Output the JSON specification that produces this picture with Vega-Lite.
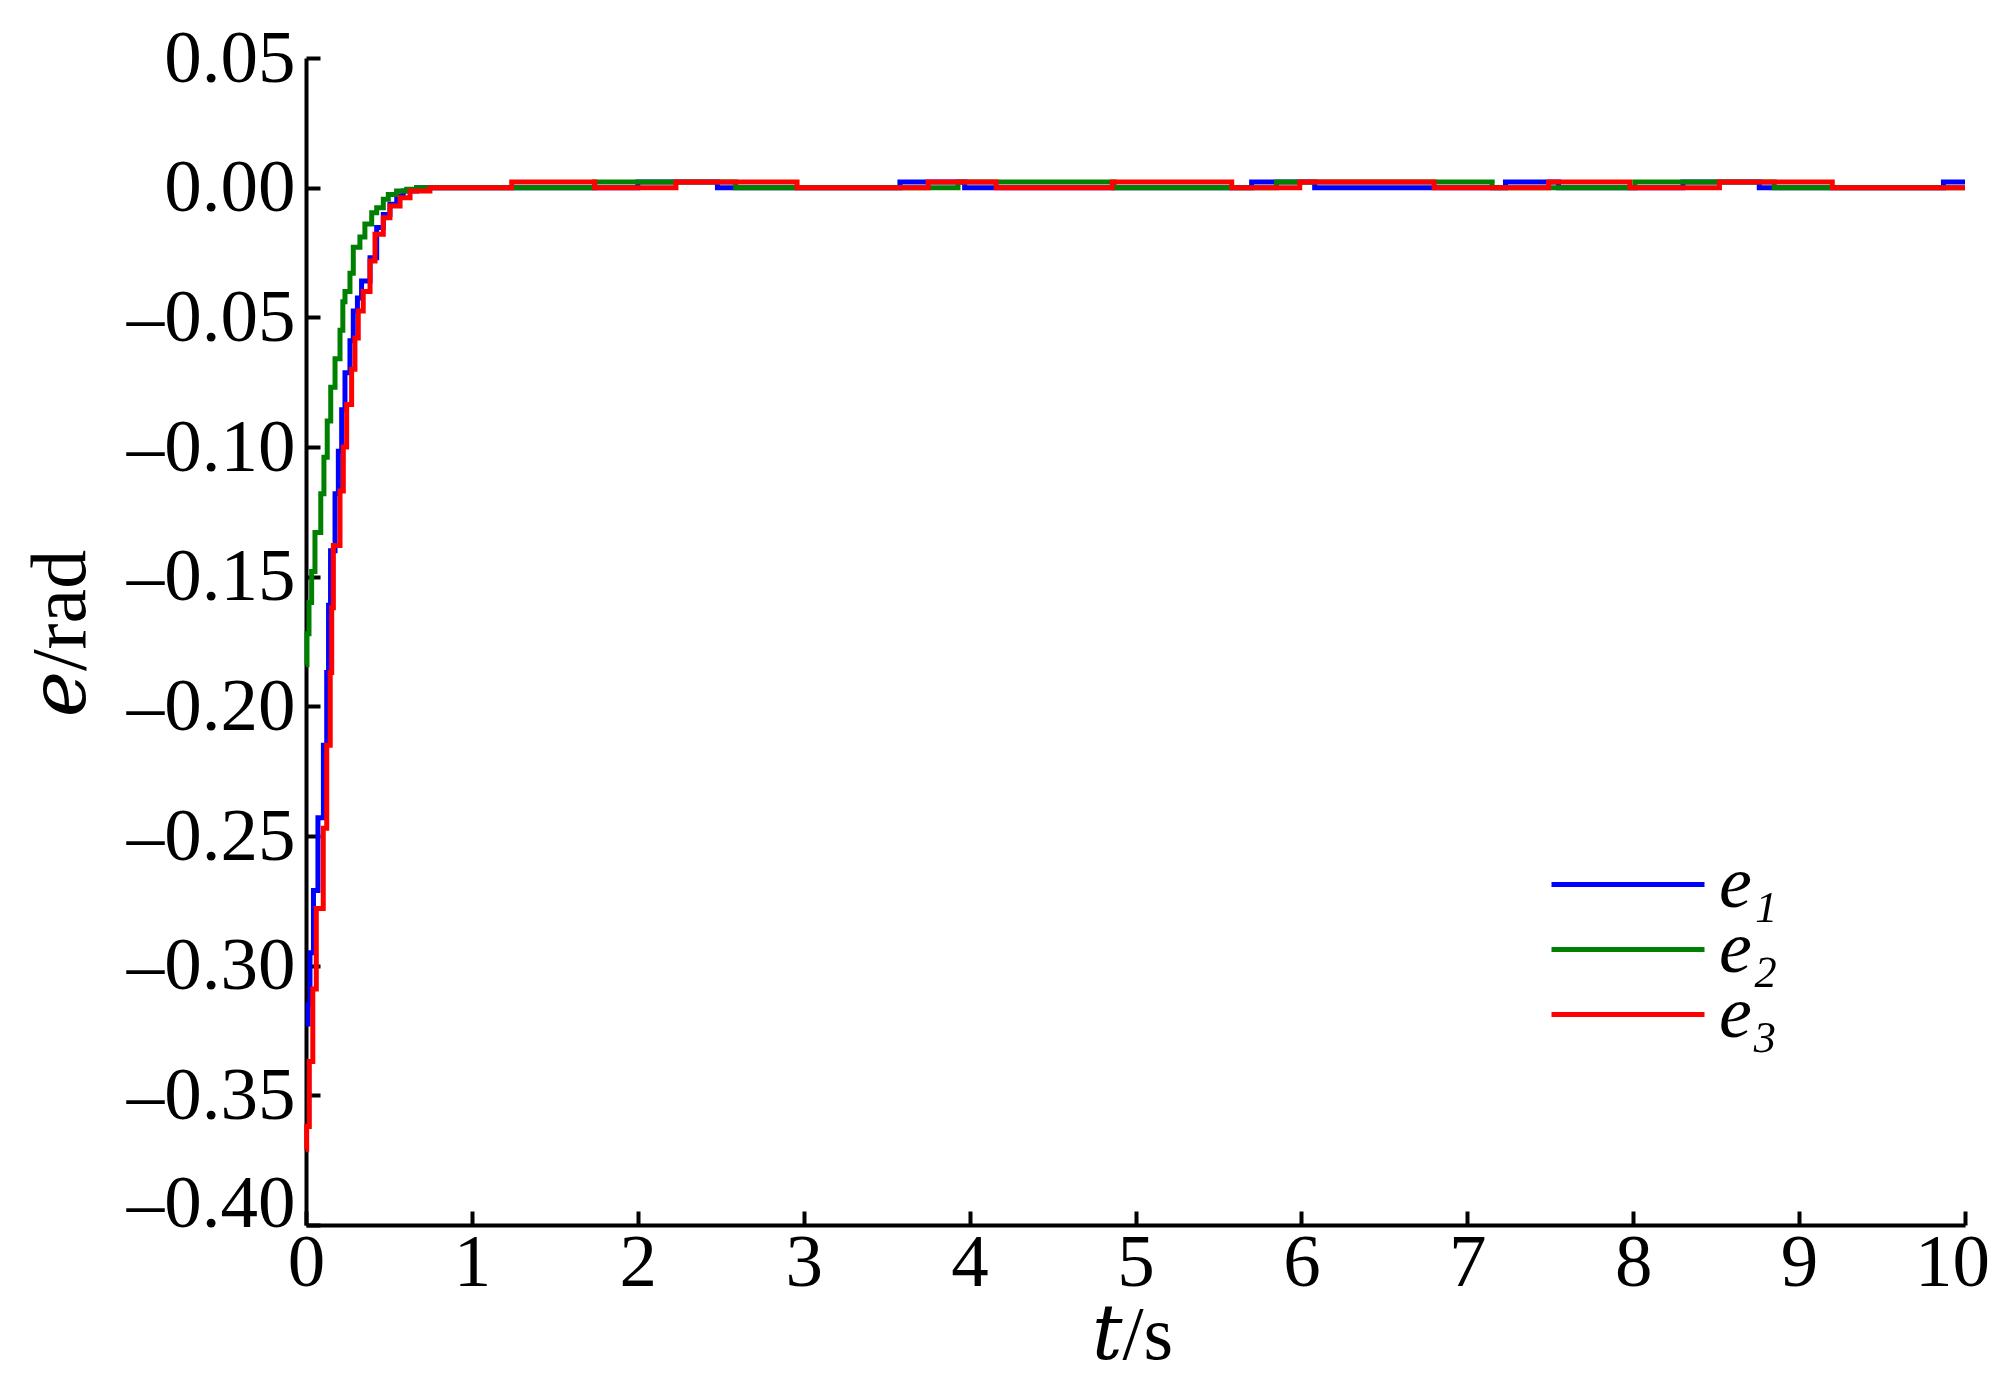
{
  "$schema": "https://vega.github.io/schema/vega-lite/v6.json",
  "width": 1659,
  "height": 1167,
  "autosize": "none",
  "padding": {"left": 306, "top": 58, "right": 29, "bottom": 151},
  "background": "white",
  "config": {"font": "Liberation Serif", "view": {"stroke": null}},
  "data": {"values": [
    {"s":"e₁","t":0,"v":-0.3225},{"s":"e₁","t":0.013,"v":-0.315},{"s":"e₁","t":0.024,"v":-0.295},{"s":"e₁","t":0.045,"v":-0.271},{"s":"e₁","t":0.072,"v":-0.243},{"s":"e₁","t":0.105,"v":-0.215},{"s":"e₁","t":0.125,"v":-0.187},{"s":"e₁","t":0.136,"v":-0.161},{"s":"e₁","t":0.148,"v":-0.14},{"s":"e₁","t":0.175,"v":-0.118},{"s":"e₁","t":0.195,"v":-0.1016},{"s":"e₁","t":0.215,"v":-0.0856},{"s":"e₁","t":0.235,"v":-0.0714},{"s":"e₁","t":0.265,"v":-0.059},{"s":"e₁","t":0.285,"v":-0.0476},{"s":"e₁","t":0.31,"v":-0.0425},{"s":"e₁","t":0.335,"v":-0.036},{"s":"e₁","t":0.386,"v":-0.027},{"s":"e₁","t":0.426,"v":-0.0154},{"s":"e₁","t":0.466,"v":-0.0103},{"s":"e₁","t":0.506,"v":-0.0064},{"s":"e₁","t":0.547,"v":-0.0032},{"s":"e₁","t":0.586,"v":-0.0013},{"s":"e₁","t":0.667,"v":0},
    {"s":"e₁","t":2.0,"v":0.0022},{"s":"e₁","t":2.48,"v":0},{"s":"e₁","t":3.58,"v":0.0022},{"s":"e₁","t":3.97,"v":0},{"s":"e₁","t":5.7,"v":0.0022},{"s":"e₁","t":6.08,"v":0},{"s":"e₁","t":7.23,"v":0.0022},{"s":"e₁","t":7.55,"v":0},{"s":"e₁","t":8.3,"v":0.0022},{"s":"e₁","t":8.76,"v":0},{"s":"e₁","t":9.87,"v":0.0022},{"s":"e₁","t":10,"v":0.0022},
    {"s":"e₂","t":0,"v":-0.184},{"s":"e₂","t":0.006,"v":-0.172},{"s":"e₂","t":0.018,"v":-0.16},{"s":"e₂","t":0.034,"v":-0.148},{"s":"e₂","t":0.054,"v":-0.133},{"s":"e₂","t":0.089,"v":-0.118},{"s":"e₂","t":0.108,"v":-0.104},{"s":"e₂","t":0.128,"v":-0.09},{"s":"e₂","t":0.149,"v":-0.077},{"s":"e₂","t":0.175,"v":-0.066},{"s":"e₂","t":0.205,"v":-0.055},{"s":"e₂","t":0.222,"v":-0.044},{"s":"e₂","t":0.235,"v":-0.04},{"s":"e₂","t":0.265,"v":-0.033},{"s":"e₂","t":0.285,"v":-0.023},{"s":"e₂","t":0.325,"v":-0.019},{"s":"e₂","t":0.355,"v":-0.014},{"s":"e₂","t":0.396,"v":-0.0097},{"s":"e₂","t":0.426,"v":-0.0077},{"s":"e₂","t":0.466,"v":-0.0045},{"s":"e₂","t":0.496,"v":-0.0026},{"s":"e₂","t":0.546,"v":-0.0013},{"s":"e₂","t":0.607,"v":-0.0006},{"s":"e₂","t":0.667,"v":0},
    {"s":"e₂","t":1.74,"v":0.0022},{"s":"e₂","t":2.59,"v":0},{"s":"e₂","t":3.93,"v":0.0022},{"s":"e₂","t":4.87,"v":0},{"s":"e₂","t":5.85,"v":0.0022},{"s":"e₂","t":7.15,"v":0},{"s":"e₂","t":8.01,"v":0.0022},{"s":"e₂","t":8.85,"v":0},{"s":"e₂","t":10,"v":0},
    {"s":"e₃","t":0,"v":-0.371},{"s":"e₃","t":0.004,"v":-0.362},{"s":"e₃","t":0.02,"v":-0.337},{"s":"e₃","t":0.041,"v":-0.309},{"s":"e₃","t":0.062,"v":-0.278},{"s":"e₃","t":0.104,"v":-0.247},{"s":"e₃","t":0.125,"v":-0.215},{"s":"e₃","t":0.146,"v":-0.187},{"s":"e₃","t":0.155,"v":-0.162},{"s":"e₃","t":0.165,"v":-0.138},{"s":"e₃","t":0.205,"v":-0.117},{"s":"e₃","t":0.225,"v":-0.1},{"s":"e₃","t":0.245,"v":-0.0836},{"s":"e₃","t":0.275,"v":-0.07},{"s":"e₃","t":0.295,"v":-0.058},{"s":"e₃","t":0.315,"v":-0.0476},{"s":"e₃","t":0.345,"v":-0.04},{"s":"e₃","t":0.386,"v":-0.0283},{"s":"e₃","t":0.416,"v":-0.018},{"s":"e₃","t":0.466,"v":-0.0116},{"s":"e₃","t":0.506,"v":-0.0071},{"s":"e₃","t":0.567,"v":-0.0039},{"s":"e₃","t":0.627,"v":-0.0013},{"s":"e₃","t":0.747,"v":0},
    {"s":"e₃","t":1.24,"v":0.0022},{"s":"e₃","t":1.74,"v":0},{"s":"e₃","t":2.23,"v":0.0022},{"s":"e₃","t":2.96,"v":0},{"s":"e₃","t":3.75,"v":0.0022},{"s":"e₃","t":4.16,"v":0},{"s":"e₃","t":4.86,"v":0.0022},{"s":"e₃","t":5.58,"v":0},{"s":"e₃","t":5.99,"v":0.0022},{"s":"e₃","t":6.8,"v":0},{"s":"e₃","t":7.49,"v":0.0022},{"s":"e₃","t":7.98,"v":0},{"s":"e₃","t":8.52,"v":0.0022},{"s":"e₃","t":9.2,"v":0},{"s":"e₃","t":10,"v":0}
  ]},
  "mark": {"type": "line", "interpolate": "step-after", "strokeWidth": 5, "clip": false},
  "encoding": {
    "x": {
      "field": "t", "type": "quantitative",
      "scale": {"domain": [0, 10], "nice": false, "zero": false},
      "axis": {
        "values": [0,1,2,3,4,5,6,7,8,9,10], "format": "d", "grid": false,
        "tickSize": -14, "tickWidth": 4, "tickColor": "black",
        "domainWidth": 4, "domainColor": "black",
        "labelFont": "Liberation Serif", "labelFontSize": 75, "labelColor": "black", "labelPadding": 15,
        "labelOffset": {"condition": {"test": "datum.value === 10", "value": -13}, "value": 0},
        "labelFlush": false, "labelOverlap": false,
        "title": "𝑡/s", "titleFont": "Liberation Serif, DejaVu Serif", "titleFontSize": 76, "titleFontWeight": "normal", "titleColor": "black",
        "titleX": 826, "titleY": 110, "titleBaseline": "middle", "titleAlign": "center"
      }
    },
    "y": {
      "field": "v", "type": "quantitative",
      "scale": {"domain": [-0.4, 0.05], "nice": false, "zero": false},
      "axis": {
        "values": [-0.4,-0.35,-0.3,-0.25,-0.2,-0.15,-0.1,-0.05,0,0.05],
        "labelExpr": "datum.value < -0.0001 ? '–' + format(-datum.value, '.2f') : format(datum.value, '.2f')",
        "labelOffset": {"condition": {"test": "datum.value < -0.39", "value": -22}, "value": 0},
        "grid": false,
        "tickSize": -14, "tickWidth": 4, "tickColor": "black",
        "domainWidth": 4, "domainColor": "black",
        "labelFont": "Liberation Serif", "labelFontSize": 75, "labelColor": "black", "labelPadding": 25,
        "labelFlush": false, "labelOverlap": false,
        "title": "𝑒/rad", "titleFont": "Liberation Serif, DejaVu Serif", "titleFontSize": 78, "titleFontWeight": "normal", "titleColor": "black",
        "titleX": -245, "titleY": 575, "titleBaseline": "middle", "titleAlign": "center", "titleAngle": -90
      }
    },
    "color": {
      "field": "s", "type": "nominal",
      "scale": {"domain": ["e₁","e₂","e₃"], "range": ["#0000ff","#008000","#ff0000"]},
      "legend": {
        "orient": "none", "legendX": 1243, "legendY": 799, "title": null, "padding": 0,
        "symbolType": "stroke", "symbolSize": 23409, "symbolStrokeWidth": 5,
        "labelFont": "Liberation Serif", "labelFontSize": 74, "labelFontStyle": "italic", "labelColor": "black",
        "labelOffset": 12, "rowPadding": -10, "clipHeight": 55
      }
    }
  }
}
